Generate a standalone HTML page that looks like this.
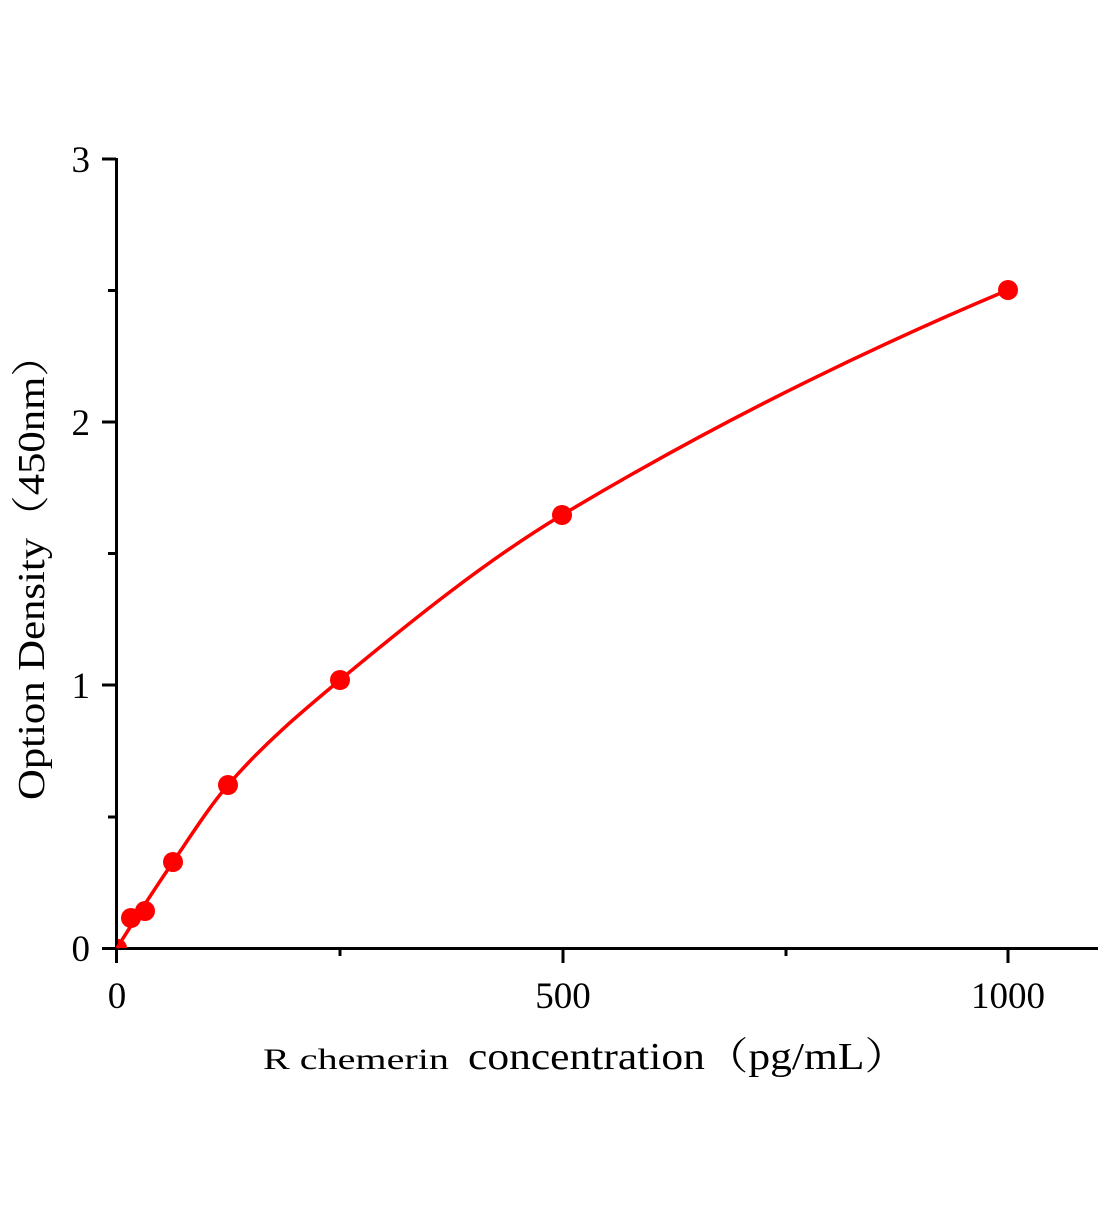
<!DOCTYPE html>
<html><head><meta charset="utf-8"><style>html,body{margin:0;padding:0;background:#fff}
text{font-family:"Liberation Serif","Noto Serif CJK SC",serif}</style></head>
<body>
<svg width="1104" height="1200" viewBox="0 0 1104 1200" xmlns="http://www.w3.org/2000/svg">
<g stroke="#000" stroke-width="3" fill="none">
<line x1="116.5" y1="158" x2="116.5" y2="963"/>
<line x1="102" y1="948.5" x2="1098" y2="948.5"/>
<line x1="102" y1="159" x2="116" y2="159"/>
<line x1="102" y1="422" x2="116" y2="422"/>
<line x1="102" y1="685" x2="116" y2="685"/>
<line x1="108" y1="290.5" x2="116" y2="290.5"/>
<line x1="108" y1="553.5" x2="116" y2="553.5"/>
<line x1="108" y1="817" x2="116" y2="817"/>
<line x1="563" y1="948" x2="563" y2="963"/>
<line x1="1008" y1="948" x2="1008" y2="963"/>
<line x1="340" y1="948" x2="340" y2="956"/>
<line x1="786" y1="948" x2="786" y2="956"/>
</g>
<g font-size="37" fill="#000">
<text x="90" y="172" text-anchor="end">3</text>
<text x="90" y="435" text-anchor="end">2</text>
<text x="90" y="698" text-anchor="end">1</text>
<text x="90" y="961" text-anchor="end">0</text>
<text x="117" y="1008" text-anchor="middle">0</text>
<text x="563" y="1008" text-anchor="middle">500</text>
<text x="1008" y="1008" text-anchor="middle">1000</text>
<text x="263" y="1069" font-size="30" textLength="186" lengthAdjust="spacingAndGlyphs">R chemerin</text>
<text x="468" y="1069" font-size="38" textLength="440" lengthAdjust="spacingAndGlyphs">concentration（pg/mL）</text>
<text transform="translate(44,800) rotate(-90)" font-size="38" textLength="466" lengthAdjust="spacingAndGlyphs">Option Density（450nm）</text>
</g>
<clipPath id="c"><rect x="118" y="100" width="1000" height="848"/></clipPath>
<path d="M117,948 C135.7,918.1 154.3,889.4 173,862 C191.3,835.1 209.7,806.1 228,785 C265.3,742.1 302.7,711 340,680 C414,618.6 488,559.4 562,515 C710.7,425.8 859.3,352.4 1008,290" stroke="#f00" stroke-width="3.5" fill="none"/>
<g fill="#f00">
<circle cx="131" cy="918" r="10"/>
<circle cx="145" cy="911" r="10"/>
<circle cx="173" cy="862" r="10"/>
<circle cx="228" cy="785" r="10"/>
<circle cx="340" cy="680" r="10"/>
<circle cx="562" cy="515" r="10"/>
<circle cx="1008" cy="290" r="10"/>
<circle cx="118" cy="948" r="9" clip-path="url(#c)"/>
</g>
</svg>
</body></html>
